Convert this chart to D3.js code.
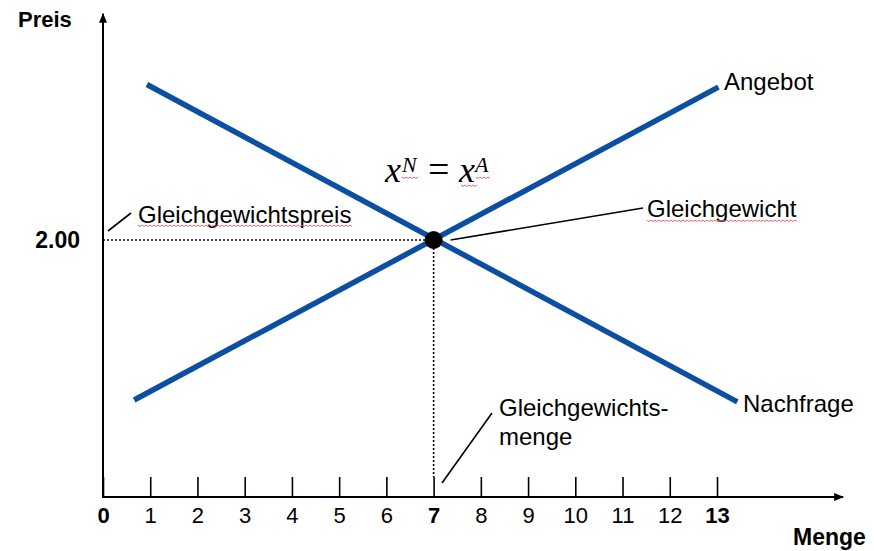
<!DOCTYPE html>
<html>
<head>
<meta charset="utf-8">
<script src="https://cdn.jsdelivr.net/npm/d3@7"></script>
<style>
  html, body { margin: 0; padding: 0; background: #fff; }
  svg { display: block; font-family: "Liberation Sans", Arial, sans-serif; }
</style>
</head>
<body>
<svg id="chart" width="874" height="551"></svg>
<script>
// ---- data ----
const qTicks = [0, 1, 2, 3, 4, 5, 6, 7, 8, 9, 10, 11, 12, 13];
const boldTicks = [0, 7, 13];
const priceTicks = [2];
const demandQ = [0.93, 13.43];
const demandP = [3.21, 0.74];
const supplyQ = [0.66, 13.03];
const supplyP = [0.755, 3.19];
const eqQ = 7;
const eqP = 2;
const qAxisMax = 15.67;
const pAxisMax = 3.76;

// ---- scales ----
const x = d3.scaleLinear().domain([0, 13]).range([103, 717]);
const y = d3.scaleLinear().domain([0, 2]).range([497, 240]);

const svg = d3.select("#chart");
const blue = "#0b4ea2";

const defs = svg.append("defs");
defs.append("marker").attr("id", "arr").attr("viewBox", "0 0 10 10")
  .attr("refX", 9).attr("refY", 5).attr("markerWidth", 10).attr("markerHeight", 10)
  .attr("markerUnits", "userSpaceOnUse").attr("orient", "auto")
  .append("path").attr("d", "M0,1 L10,5 L0,9 Z").attr("fill", "#000");

// x axis (ticks point upward)
const xAxis = d3.axisBottom(x).tickValues(qTicks).tickSize(-20).tickPadding(10)
  .tickFormat(d3.format("d"));
const gx = svg.append("g").attr("transform", `translate(0,${y(0)})`).call(xAxis);
gx.select(".domain").remove();
gx.selectAll(".tick line").attr("stroke", "#000").attr("stroke-width", 1.6);
gx.selectAll(".tick text").attr("fill", "#000").attr("font-size", 22)
  .attr("font-family", "Liberation Sans, Arial, sans-serif")
  .attr("font-weight", d => boldTicks.includes(d) ? "bold" : "normal");

// y axis
const yAxis = d3.axisLeft(y).tickValues(priceTicks).tickSize(0).tickPadding(23)
  .tickFormat(d3.format(".2f"));
const gy = svg.append("g").attr("transform", `translate(${x(0)},0)`).call(yAxis);
gy.select(".domain").remove();
gy.selectAll(".tick text").attr("fill", "#000").attr("font-size", 23)
  .attr("font-weight", "bold").attr("font-family", "Liberation Sans, Arial, sans-serif");

// axis lines with arrows
svg.append("line").attr("x1", x(0)).attr("y1", y(0)).attr("x2", x(qAxisMax)).attr("y2", y(0))
  .attr("stroke", "#000").attr("stroke-width", 2).attr("marker-end", "url(#arr)");
svg.append("line").attr("x1", x(0)).attr("y1", y(0) + 1).attr("x2", x(0)).attr("y2", y(pAxisMax))
  .attr("stroke", "#000").attr("stroke-width", 2).attr("marker-end", "url(#arr)");

// dotted guide lines
svg.append("line").attr("x1", x(0)).attr("y1", y(eqP)).attr("x2", x(eqQ)).attr("y2", y(eqP))
  .attr("stroke", "#000").attr("stroke-width", 1.6).attr("stroke-dasharray", "2,2");
svg.append("line").attr("x1", x(eqQ)).attr("y1", y(eqP)).attr("x2", x(eqQ)).attr("y2", y(0) - 20)
  .attr("stroke", "#000").attr("stroke-width", 1.6).attr("stroke-dasharray", "2,2");

// curves
const line = d3.line().x(d => x(d[0])).y(d => y(d[1]));
svg.append("path").datum(demandQ.map((q, i) => [q, demandP[i]])).attr("d", line)
  .attr("fill", "none").attr("stroke", blue).attr("stroke-width", 5.5);
svg.append("path").datum(supplyQ.map((q, i) => [q, supplyP[i]])).attr("d", line)
  .attr("fill", "none").attr("stroke", blue).attr("stroke-width", 5.5);

// equilibrium point
svg.append("circle").attr("cx", x(eqQ)).attr("cy", y(eqP)).attr("r", 9).attr("fill", "#000");

// leader lines
function leader(x1, y1, x2, y2) {
  svg.append("line").attr("x1", x1).attr("y1", y1).attr("x2", x2).attr("y2", y2)
    .attr("stroke", "#000").attr("stroke-width", 1.6);
}
leader(x(eqQ) + 17, y(eqP), 643, 208);
leader(108, 231, 131, 213);
leader(442, 483, 492, 413);

// wavy underline helper
function wavy(x1, x2, yy) {
  let d = `M${x1},${yy}`;
  for (let xx = x1, k = 0; xx < x2; xx += 2, k++) {
    d += ` L${xx + 2},${yy + (k % 2 === 0 ? 1.5 : 0)}`;
  }
  svg.append("path").attr("d", d).attr("fill", "none").attr("stroke", "#e05a5a").attr("stroke-width", 0.9);
}

// labels
function label(txt, lx, ly, opts = {}) {
  return svg.append("text").attr("x", lx).attr("y", ly).text(txt)
    .attr("font-size", opts.size || 24).attr("font-weight", opts.weight || "normal")
    .attr("fill", "#000").attr("font-family", "Liberation Sans, Arial, sans-serif");
}
label("Preis", 18, 27, { size: 22, weight: "bold" });
label("Menge", 793, 545, { size: 23, weight: "bold" });
label("Angebot", 724, 90);
label("Nachfrage", 743, 412);
label("Gleichgewicht", 647, 217);
label("Gleichgewichtspreis", 138, 223);
label("Gleichgewichts-", 499, 416);
label("menge", 499, 445);
wavy(138, 352, 225);
wavy(647, 797, 220);

// formula x^N = x^A
const f = svg.append("text").attr("y", 182)
  .attr("font-family", "Liberation Serif, 'Times New Roman', serif").attr("fill", "#000");
f.append("tspan").text("x").attr("x", 385).attr("font-style", "italic").attr("font-size", 36);
f.append("tspan").text("N").attr("x", 402).attr("font-style", "italic").attr("font-size", 22).attr("dy", -10);
f.append("tspan").text("=").attr("x", 428).attr("font-size", 38).attr("dy", 10);
f.append("tspan").text("x").attr("x", 459).attr("font-style", "italic").attr("font-size", 36);
f.append("tspan").text("A").attr("x", 475).attr("font-style", "italic").attr("font-size", 22).attr("dy", -10);
wavy(402, 418, 177);
wavy(461, 476, 185);
wavy(476, 490, 177);
</script>
</body>
</html>
